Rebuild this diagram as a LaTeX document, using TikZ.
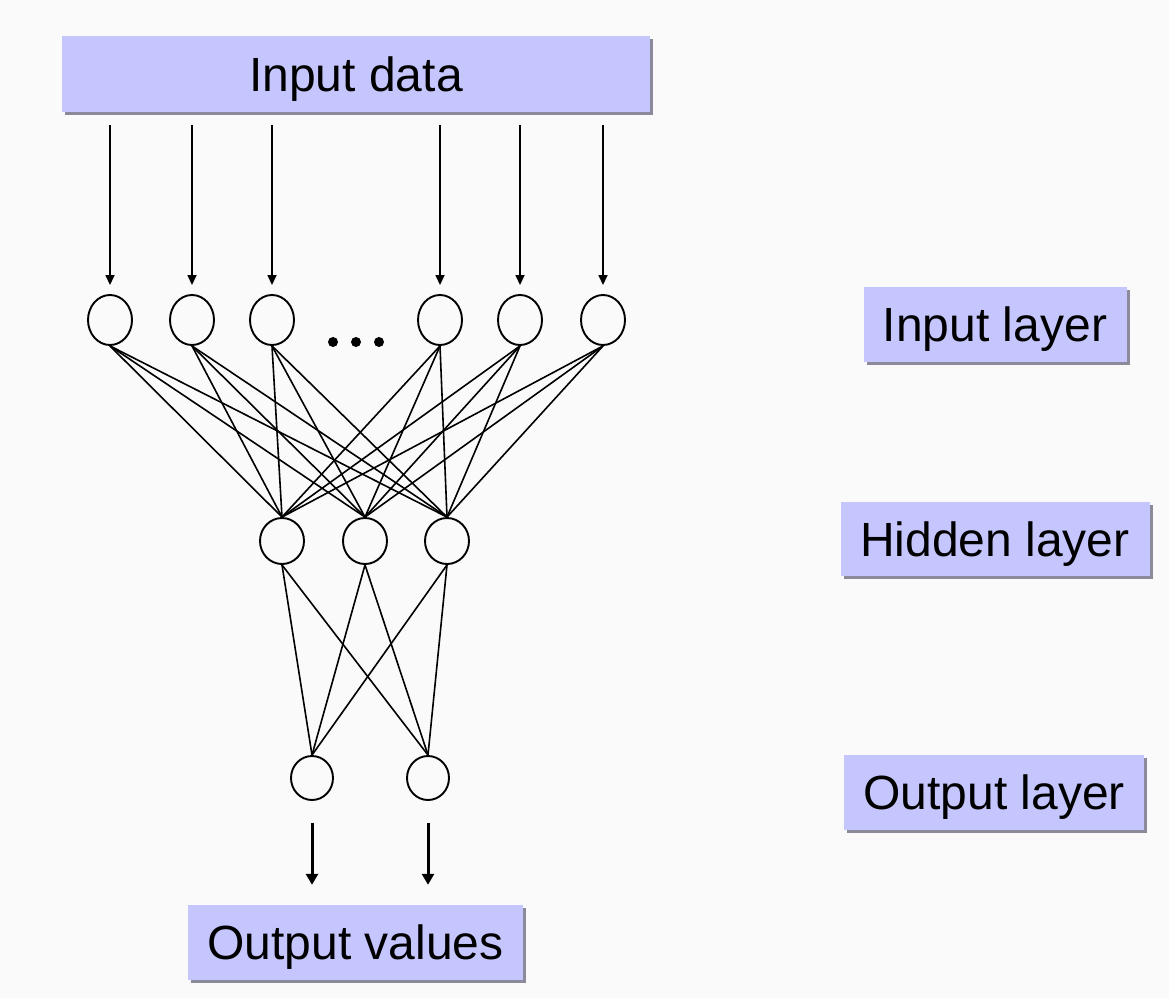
\documentclass[tikz,border=0pt]{standalone}
\usepackage{fontspec}
\setmainfont{Liberation Sans}
\usetikzlibrary{arrows.meta,shapes.geometric}
\definecolor{bgcol}{HTML}{FAFAFA}
\definecolor{boxcol}{HTML}{C6C6FE}
\definecolor{shadowcol}{HTML}{8A8A9A}
\tikzset{
  labelbox/.style={fill=boxcol, inner sep=0pt, font=\fontsize{48}{52}\selectfont,
    text height=34.4pt, text depth=0pt,
    preaction={fill=shadowcol, transform canvas={xshift=3pt,yshift=-3pt}}},
  neuron/.style={ellipse, draw, line width=1.9pt, fill=bgcol, inner sep=0pt},
  link/.style={line width=1.6pt},
  feed/.style={line width=1.5pt, -{Triangle[length=10pt,width=9pt]}},
  outfeed/.style={line width=3pt, -{Triangle[length=11pt,width=12pt]}}
}
\begin{document}
\begin{tikzpicture}[x=1pt,y=-1pt]
  \fill[bgcol] (0,0) rectangle (1169,998);
  \useasboundingbox (0,0) rectangle (1169,998);

  % label boxes
  \node[labelbox, minimum width=588pt, minimum height=76pt] (data) at (356,74) {Input data};
  \node[labelbox, minimum width=263pt, minimum height=75pt] (lin) at (995,324) {Input layer};
  \node[labelbox, minimum width=309pt, minimum height=74pt] (lhid) at (995,539) {Hidden layer};
  \node[labelbox, minimum width=300pt, minimum height=75pt] (lout) at (994,792) {Output layer};
  \node[labelbox, minimum width=335pt, minimum height=75pt] (vals) at (355.5,942.5) {Output values};

  % input layer
  \foreach \n/\x in {1/110, 2/192, 3/272, 4/440, 5/520, 6/603} {
    \node[neuron, minimum width=44pt, minimum height=50pt] (i\n) at (\x,320) {};
    \coordinate (s\n) at (\x,125);
    \draw[feed, shorten >=9pt] (s\n) -- (i\n.north);
  }
  \foreach \x in {333,356,379} \fill (\x,342) circle (5pt);

  % hidden layer
  \foreach \n/\x in {1/282, 2/365, 3/447}
    \node[neuron, minimum width=44pt, minimum height=46pt] (h\n) at (\x,541) {};

  % output layer
  \foreach \n/\x in {1/312, 2/428}
    \node[neuron, minimum width=42pt, minimum height=44pt] (o\n) at (\x,778) {};

  % connections
  \foreach \a in {1,...,6}
    \foreach \b in {1,2,3}
      \draw[link] (i\a.south) -- (h\b.north);
  \foreach \a in {1,2,3}
    \foreach \b in {1,2}
      \draw[link] (h\a.south) -- (o\b.north);

  % output arrows
  \foreach \b in {1,2}
    \draw[outfeed, shorten <=22pt, shorten >=20pt] (o\b.south) -- (o\b.south |- vals.north);
\end{tikzpicture}
\end{document}
